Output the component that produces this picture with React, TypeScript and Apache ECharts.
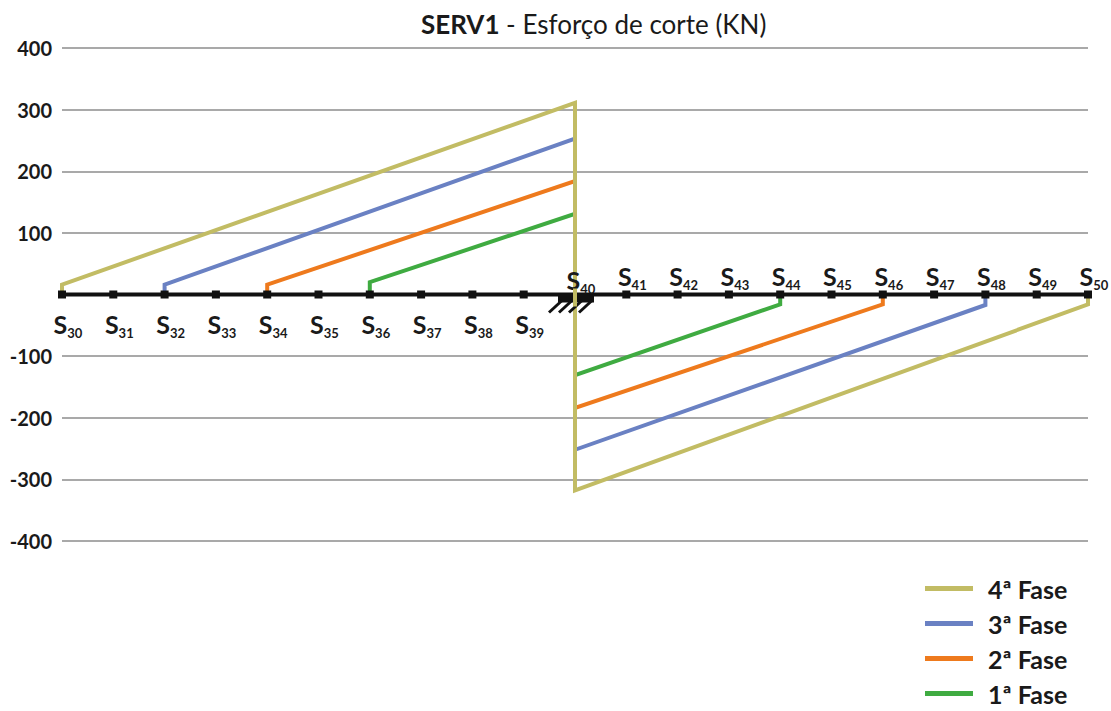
import React, { useEffect, useRef } from "react";
import * as echarts from "echarts";

// Sections along the beam (S30 ... S50); S40 is the support.
const sections = [30, 31, 32, 33, 34, 35, 36, 37, 38, 39, 40, 41, 42, 43, 44, 45, 46, 47, 48, 49, 50];
const supportSection = 40;

// Shear diagrams, points as [section, shear kN]
const fase1: [number, number][] = [[36, 0], [36, 20], [40, 131], [40, -131], [44, -16], [44, 0]];
const fase2: [number, number][] = [[34, 0], [34, 16], [40, 184], [40, -184], [46, -16], [46, 0]];
const fase3: [number, number][] = [[32, 0], [32, 16], [40, 253], [40, -252], [48, -17], [48, 0]];
const fase4: [number, number][] = [[30, 0], [30, 16], [40, 311], [40, -318], [50, -16], [50, 0]];

const faseNames = ["4ª Fase", "3ª Fase", "2ª Fase", "1ª Fase"];
const yTicks = { min: -400, max: 400, interval: 100 };

const FONT = "Lato, 'Open Sans', sans-serif";

export default function App() {
  const ref = useRef<HTMLDivElement>(null);

  useEffect(() => {
    if (!ref.current) return;
    const chart = echarts.init(ref.current, null, { renderer: "svg" });

    const lineSeries = (name: string, data: [number, number][], color: string, z: number) => ({
      name,
      type: "line",
      data,
      showSymbol: false,
      symbol: "none",
      z,
      lineStyle: { color, width: 4, join: "miter" },
      itemStyle: { color },
    });

    const axisData = sections.map((s) => {
      const below = s < supportSection;
      return {
        value: [s, 0],
        symbolSize: s === supportSection ? 0 : 8,
        label: {
          show: true,
          position: below ? "bottom" : "top",
          distance: below ? 12 : 2,
          offset: [6, 0],
          formatter: `{s|S}{n|${s}}`,
          rich: {
            s: { fontFamily: FONT, fontSize: 25, fontWeight: "bold", color: "#1a1a1a", lineHeight: 26, verticalAlign: "bottom" },
            n: { fontFamily: FONT, fontSize: 13, fontWeight: "bold", color: "#1a1a1a", lineHeight: 13, verticalAlign: "bottom", padding: [0, 0, -3, 0] },
          },
        },
      };
    });

    chart.setOption({
      animation: false,
      textStyle: { fontFamily: FONT },
      title: {
        text: "{b|SERV1} - Esforço de corte (KN)",
        left: 416,
        top: 6,
        textStyle: {
          fontFamily: FONT,
          fontSize: 26,
          fontWeight: "normal",
          color: "#1a1a1a",
          rich: {
            b: { fontFamily: FONT, fontSize: 26, fontWeight: "bold", color: "#1a1a1a" },
          },
        },
      },
      legend: {
        data: faseNames,
        orient: "vertical",
        left: 925,
        top: 576,
        padding: 0,
        height: 135,
        icon: "rect",
        itemWidth: 48,
        itemHeight: 5,
        itemGap: 10,
        textStyle: { fontFamily: FONT, fontSize: 25, fontWeight: "bold", color: "#1a1a1a", padding: [0, 0, 0, 10] },
      },
      grid: { left: 62, right: 23, top: 48, bottom: 170, containLabel: false },
      xAxis: {
        type: "value",
        min: 30,
        max: 50,
        show: false,
      },
      yAxis: {
        type: "value",
        min: yTicks.min,
        max: yTicks.max,
        interval: yTicks.interval,
        axisLine: { show: false },
        axisTick: { show: false },
        axisLabel: {
          margin: 10,
          fontFamily: FONT,
          fontSize: 20,
          fontWeight: "bold",
          color: "#1a1a1a",
          formatter: (v: number) => (v === 0 ? "" : String(v)),
        },
        splitLine: { lineStyle: { color: "#a9a9a9", width: 2 } },
      },
      series: [
        lineSeries("1ª Fase", fase1, "#3fab41", 2),
        lineSeries("2ª Fase", fase2, "#ee7a1d", 3),
        lineSeries("3ª Fase", fase3, "#6a81c3", 4),
        lineSeries("4ª Fase", fase4, "#c2bc64", 5),
        {
          name: "Secções",
          type: "line",
          data: axisData,
          z: 6,
          symbol: "rect",
          symbolSize: 8,
          lineStyle: { color: "#111", width: 4 },
          itemStyle: { color: "#111" },
        },
        {
          name: "Apoio",
          type: "custom",
          z: 7,
          data: [[supportSection, 0]],
          renderItem: (_params: any, api: any) => {
            const p = api.coord([api.value(0), api.value(1)]);
            const hatch = [-26, -16, -6, 4].map((dx) => ({
              type: "line",
              shape: { x1: p[0] + dx, y1: p[1] + 18, x2: p[0] + dx + 13, y2: p[1] + 6 },
              style: { stroke: "#111", lineWidth: 3 },
            }));
            return {
              type: "group",
              children: [
                { type: "rect", shape: { x: p[0] - 17, y: p[1] - 1, width: 36, height: 9 }, style: { fill: "#111" } },
                ...hatch,
                { type: "line", shape: { x1: p[0], y1: p[1] - 6, x2: p[0], y2: p[1] + 12 }, style: { stroke: "#c2bc64", lineWidth: 4 } },
              ],
            };
          },
        },
      ],
    });

    return () => chart.dispose();
  }, []);

  return <div ref={ref} style={{ width: 1111, height: 711, position: "absolute", left: 0, top: 0 }} />;
}
